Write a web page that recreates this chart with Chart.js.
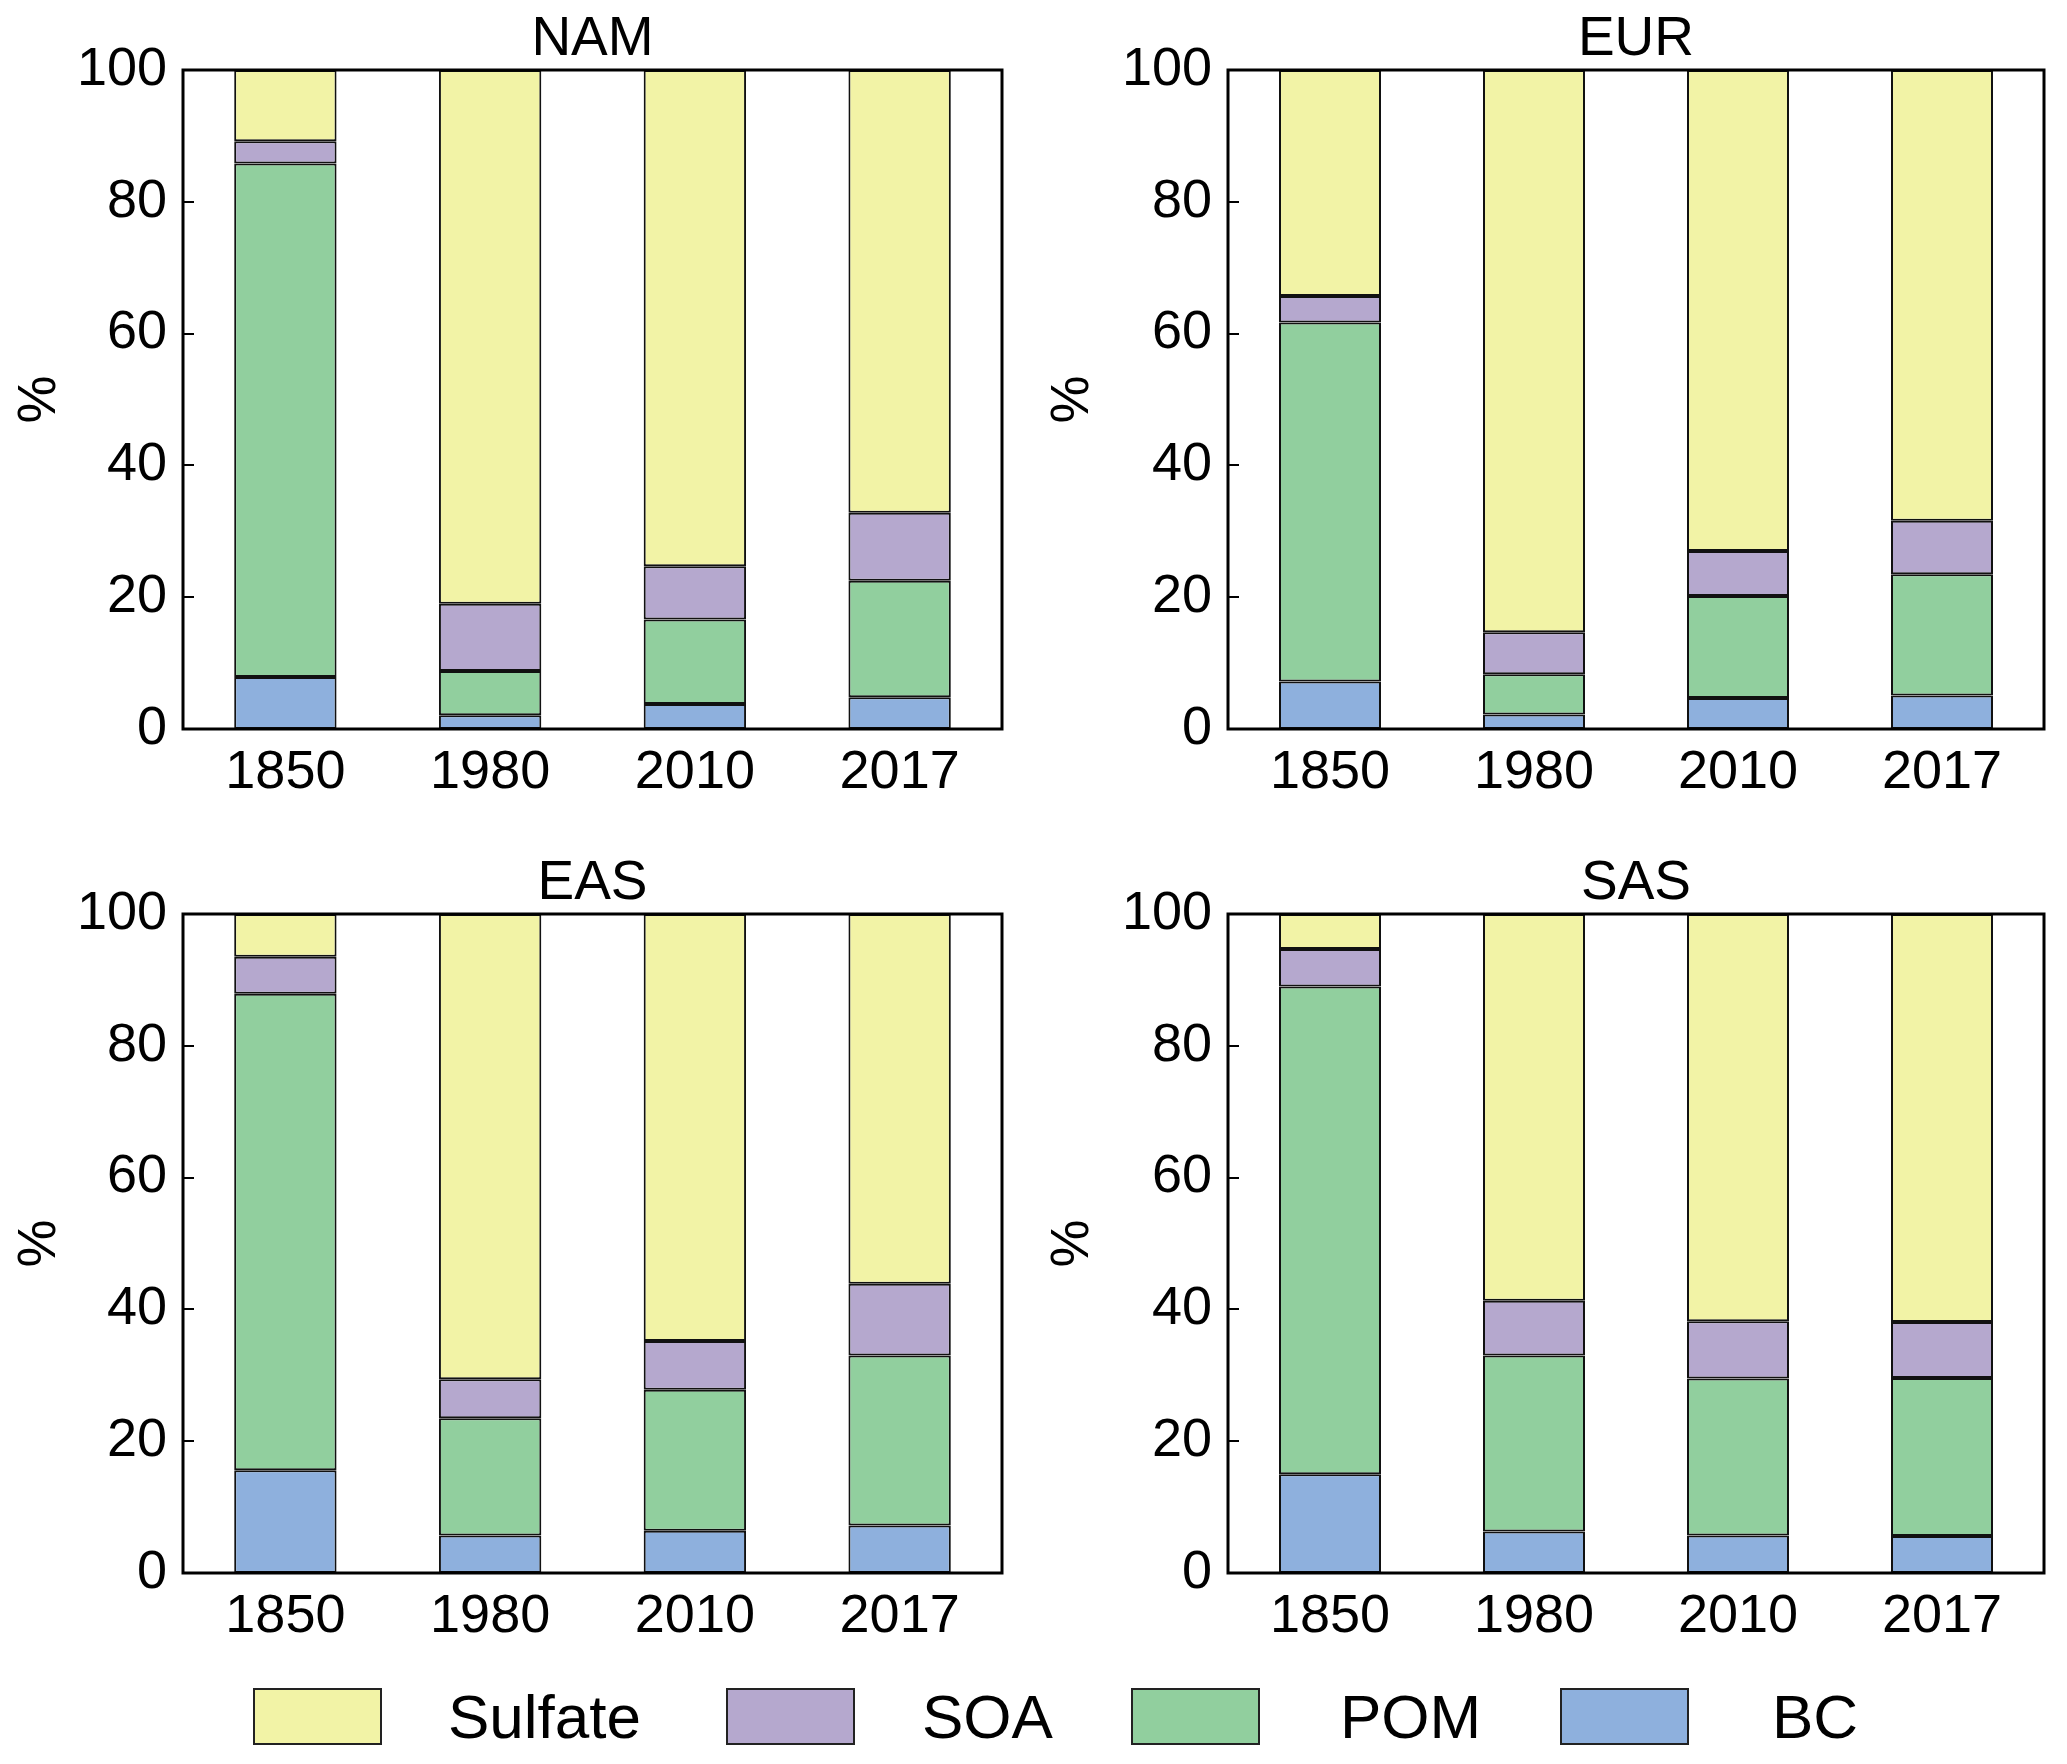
<!DOCTYPE html>
<html>
<head>
<meta charset="utf-8">
<script src="https://cdn.jsdelivr.net/npm/chart.js@4.4.1/dist/chart.umd.min.js"></script>
<style>
  html, body { margin: 0; padding: 0; background: #fff; }
  body { width: 2067px; height: 1764px; position: relative; overflow: hidden;
         font-family: "Liberation Sans", Arial, sans-serif; }
  .panel { position: absolute; }
  .swatch { position: absolute; top: 1688px; width: 125px; height: 53px; border: 2px solid #222; }
  .label { position: absolute; top: 1688px; height: 57px; line-height: 57px;
           font-size: 62px; color: #000; white-space: nowrap; }
</style>
</head>
<body>

<canvas id="nam" class="panel" width="1033" height="840" style="left:0;top:0"></canvas>
<canvas id="eur" class="panel" width="1034" height="840" style="left:1033px;top:0"></canvas>
<canvas id="eas" class="panel" width="1033" height="840" style="left:0;top:840px"></canvas>
<canvas id="sas" class="panel" width="1034" height="840" style="left:1033px;top:840px"></canvas>
<div id="legend"></div>

<script>
// ---- data (percent of total) ----
const years = ['1850', '1980', '2010', '2017'];
const species = ['Sulfate', 'SOA', 'POM', 'BC'];
const speciesColors = {
    Sulfate: '#f2f3a6',
    SOA: '#b5a8ce',
    POM: '#91cf9e',
    BC: '#8eb0dd'
};
const yTicks = [0, 20, 40, 60, 80, 100];

// NAM
const namBC      = [7.9, 2.1, 3.8, 4.8];
const namPOM     = [77.9, 6.7, 12.8, 17.7];
const namSOA     = [3.4, 10.2, 8.1, 10.3];
const namSulfate = [10.8, 81.0, 75.3, 67.2];
// EUR
const eurBC      = [7.2, 2.2, 4.7, 5.1];
const eurPOM     = [54.5, 6.1, 15.5, 18.4];
const eurSOA     = [4.0, 6.4, 6.8, 8.1];
const eurSulfate = [34.3, 85.3, 73.0, 68.4];
// EAS
const easBC      = [15.6, 5.7, 6.4, 7.2];
const easPOM     = [72.3, 17.8, 21.4, 25.8];
const easSOA     = [5.6, 5.9, 7.4, 10.9];
const easSulfate = [6.5, 70.6, 64.8, 56.1];
// SAS
const sasBC      = [15.0, 6.3, 5.7, 5.6];
const sasPOM     = [74.0, 26.7, 23.8, 24.0];
const sasSOA     = [5.7, 8.3, 8.7, 8.5];
const sasSulfate = [5.3, 58.7, 61.8, 61.9];

const FONT = '"Liberation Sans", Arial, sans-serif';

// panel list: canvas id, title, series, and where the plot frame sits in the canvas
const panels = [
    { id: 'nam', title: 'NAM', bc: namBC, pom: namPOM, soa: namSOA, sulfate: namSulfate,
      left: 183, right: 1002, top: 70, bottom: 729 },
    { id: 'eur', title: 'EUR', bc: eurBC, pom: eurPOM, soa: eurSOA, sulfate: eurSulfate,
      left: 195, right: 1011, top: 70, bottom: 729 },
    { id: 'eas', title: 'EAS', bc: easBC, pom: easPOM, soa: easSOA, sulfate: easSulfate,
      left: 183, right: 1002, top: 74, bottom: 733 },
    { id: 'sas', title: 'SAS', bc: sasBC, pom: sasPOM, soa: sasSOA, sulfate: sasSulfate,
      left: 195, right: 1011, top: 74, bottom: 733 }
];

// box around the plot + inward ticks on the left axis
const framePlugin = {
    id: 'frame',
    afterDatasetsDraw(chart) {
        const { ctx, chartArea: a } = chart;
        const y = chart.scales.y;
        ctx.save();
        ctx.strokeStyle = '#000';
        ctx.lineWidth = 2;
        yTicks.forEach(v => {
            const py = Math.round(y.getPixelForValue(v));
            ctx.beginPath();
            ctx.moveTo(a.left, py);
            ctx.lineTo(a.left + 11, py);
            ctx.stroke();
        });
        ctx.lineWidth = 3;
        ctx.strokeRect(a.left, a.top, a.right - a.left, a.bottom - a.top);
        ctx.restore();
    }
};

function buildPanel(p) {
    const canvas = document.getElementById(p.id);
    const series = { BC: p.bc, POM: p.pom, SOA: p.soa, Sulfate: p.sulfate };
    // bottom to top: BC, POM, SOA, Sulfate
    const order = ['BC', 'POM', 'SOA', 'Sulfate'];

    new Chart(canvas, {
        type: 'bar',
        data: {
            labels: years,
            datasets: order.map(name => ({
                label: name,
                data: series[name],
                backgroundColor: speciesColors[name],
                borderColor: '#111',
                borderWidth: 2,
                borderSkipped: false,
                categoryPercentage: 0.5,
                barPercentage: 1.0
            }))
        },
        options: {
            responsive: false,
            animation: false,
            devicePixelRatio: 1,
            layout: { padding: { left: 0, right: canvas.width - p.right, top: 0, bottom: 0 } },
            plugins: {
                legend: { display: false },
                tooltip: { enabled: false },
                title: {
                    display: true,
                    text: p.title,
                    fullSize: false,
                    color: '#000',
                    font: { family: FONT, size: 55, weight: 'normal', lineHeight: 1.0 },
                    padding: { top: p.top - 58, bottom: 3 }
                }
            },
            scales: {
                x: {
                    stacked: true,
                    grid: { display: false, drawTicks: false },
                    border: { display: false },
                    ticks: { color: '#000', padding: 12, font: { family: FONT, size: 54 } },
                    afterFit: s => { s.height = canvas.height - p.bottom; }
                },
                y: {
                    stacked: true,
                    min: 0,
                    max: 100,
                    grid: { display: false, drawTicks: false },
                    border: { display: false },
                    ticks: { stepSize: 20, color: '#000', padding: 16, font: { family: FONT, size: 54 } },
                    title: {
                        display: true,
                        text: '%',
                        color: '#000',
                        font: { family: FONT, size: 54 },
                        padding: { top: 8, bottom: 0 }
                    },
                    afterFit: s => { s.width = p.left; }
                }
            }
        },
        plugins: [framePlugin]
    });
}

panels.forEach(buildPanel);

// shared legend under the panels: swatch and label left edges
const legendSwatchX = [253, 726, 1131, 1560];
const legendLabelX = [448, 922, 1340, 1772];
const legend = document.getElementById('legend');
species.forEach((name, i) => {
    const sw = document.createElement('div');
    sw.className = 'swatch';
    sw.style.left = legendSwatchX[i] + 'px';
    sw.style.background = speciesColors[name];
    const lb = document.createElement('span');
    lb.className = 'label';
    lb.style.left = legendLabelX[i] + 'px';
    lb.textContent = name;
    legend.appendChild(sw);
    legend.appendChild(lb);
});
</script>
</body>
</html>
